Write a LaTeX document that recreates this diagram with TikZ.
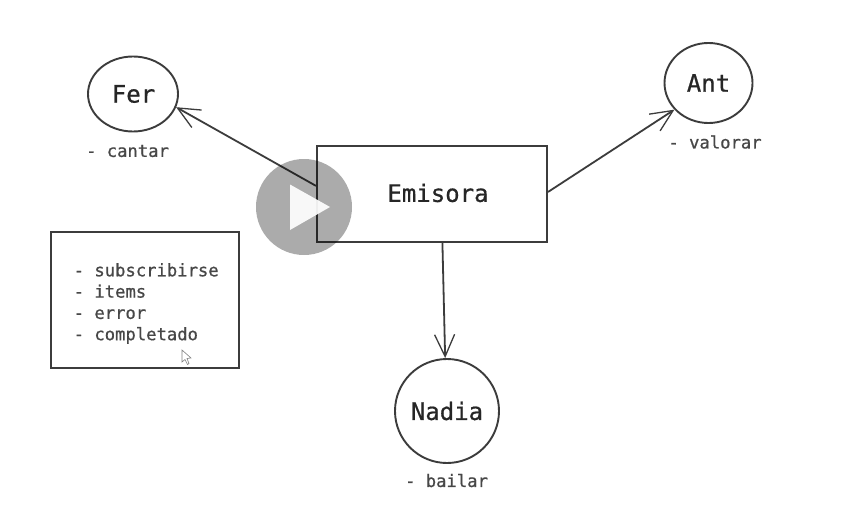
\documentclass[tikz,border=0pt]{standalone}
\usepackage{fontspec}
\newfontfamily\skfont[FakeBold=0.7]{DejaVu Sans Mono}
\usetikzlibrary{arrows.meta,shapes.geometric}
\definecolor{ink}{HTML}{3C3C3C}
\definecolor{txt}{HTML}{262626}
\tikzset{
  person/.style={ellipse,inner sep=0pt,draw=ink,line width=1.9pt,font=\fontsize{24}{24}\selectfont\skfont,text=txt},
  boxed/.style={rectangle,inner sep=0pt,draw=ink,line width=2pt,font=\fontsize{24}{24}\selectfont\skfont,text=txt},
  note/.style={font=\fontsize{17.2}{21.3}\selectfont\skfont,text=txt!85!white,align=left,inner sep=0pt},
  link/.style={draw=ink,line width=1.8pt,-{Straight Barb[length=22pt,width=20pt,line width=1.3pt]}},
}
\begin{document}
\begin{tikzpicture}[x=1pt,y=-1pt]
\useasboundingbox (0,0) rectangle (864,511);
\fill[white] (0,0) rectangle (864,511);
\node[person,minimum width=90pt,minimum height=75pt] (fer) at (133,94) {\hspace*{1pt}\raisebox{-1.5pt}{Fer}};
\node[person,minimum width=88pt,minimum height=80pt] (ant) at (708.5,83) {\raisebox{-0.5pt}{Ant}};
\node[person,minimum width=104pt,minimum height=104pt] (nadia) at (447,411) {Nadia};
\node[boxed,minimum width=230pt,minimum height=96pt] (emisora) at (432,194) {\hspace*{12pt}\raisebox{2.5pt}{Emisora}};
\node[boxed,minimum width=187.5pt,minimum height=136pt] (panel) at (144.8,299.5) {};
\node[note,anchor=west] (list) at (73.5,303.5) {- subscribirse\\- items\\- error\\- completado};
\node[note] (cantar) at (127.5,151) {- cantar};
\node[note] (valorar) at (715,142) {- valorar};
\node[note] (bailar) at (446.5,480.5) {- bailar};
\draw[link] (emisora.176) -- (fer.-17);
\draw[link] (emisora.1.5) -- (ant.218);
\draw[link] (emisora.-78) -- (nadia.92);
% video overlay
\node[circle,fill=black,fill opacity=0.33,minimum size=96pt,inner sep=0pt] (play) at (304,207) {};
\path[fill=white,fill opacity=0.92] (290,184.5) -- (330,207) -- (290,230) -- cycle;
% pointer
\path[draw=gray,fill=white,line width=0.6pt] (182,350) -- (182,362) -- (185,359.5) -- (187.5,364.5) -- (189,363.5) -- (187,358.5) -- (191,358) -- cycle;
\end{tikzpicture}
\end{document}
